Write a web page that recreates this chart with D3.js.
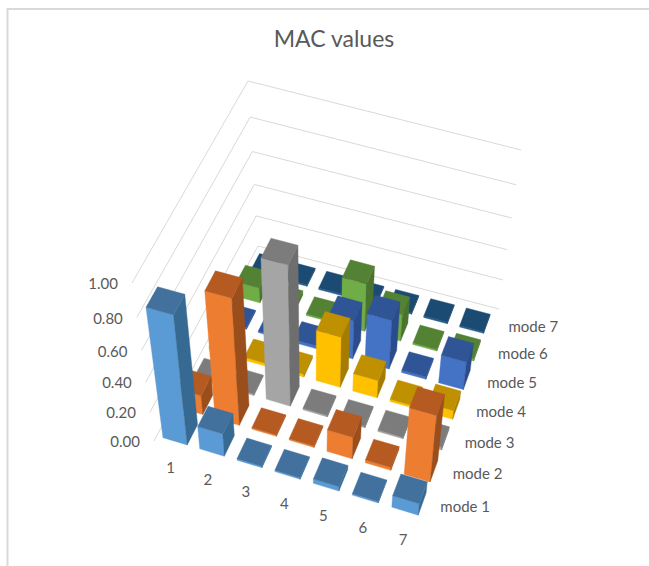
<!DOCTYPE html>
<html><head><meta charset="utf-8">
<script src="https://cdnjs.cloudflare.com/ajax/libs/d3/7.8.5/d3.min.js"></script>
<style>html,body{margin:0;padding:0;background:#fff}svg{display:block}text{font-family:Lato,"Open Sans",sans-serif;fill:#595959}</style>
</head><body><svg id="c" width="649" height="566"></svg>
<script>
const title = "MAC values";
const categories = ["1","2","3","4","5","6","7"];
const seriesNames = ["mode 1","mode 2","mode 3","mode 4","mode 5","mode 6","mode 7"];
const valueTicks = [0,0.2,0.4,0.6,0.8,1];
const mode1 = [0.84,0.155,0.01,0.01,0.03,0.01,0.08];
const mode2 = [0.13,0.82,0.01,0.01,0.15,0.02,0.45];
const mode3 = [0.01,0.01,0.90,0.01,0.01,0.01,0.02];
const mode4 = [0.02,0.02,0.02,0.34,0.12,0.015,0.06];
const mode5 = [0.01,0.01,0.02,0.26,0.33,0.015,0.19];
const mode6 = [0.10,0.03,0.01,0.32,0.18,0.01,0.02];
const mode7 = [0.01,0.01,0.01,0.01,0.01,0.01,0.01];
const seriesValues = [mode1,mode2,mode3,mode4,mode5,mode6,mode7];
const faceColors = ["#5B9BD5","#ED7D31","#A5A5A5","#FFC000","#4472C4","#70AD47","#255E91"];
const topColors  = ["#41719C","#B55A20","#7C7C7C","#BF9000","#2F5597","#548235","#1B4A72"];
const sideColors = ["#376A92","#9A4E1C","#6E6E6E","#A67C00","#2A4C8C","#4A732F","#174060"];

// perspective: camera frame of the box, floor plane and z=1 plane
const floorQuad = [[154,441],[423,523],[499,309],[258,246]];
const topQuad   = [[132,283],[438,366],[521,150],[248,81]];
function homography(q){
  const [[x0,y0],[x1,y1],[x2,y2],[x3,y3]] = q;
  const dx1=x1-x2,dx2=x3-x2,sx=x0-x1+x2-x3,dy1=y1-y2,dy2=y3-y2,sy=y0-y1+y2-y3;
  const d=dx1*dy2-dx2*dy1;
  const g=(sx*dy2-dx2*sy)/d,h=(dx1*sy-sx*dy1)/d;
  const a=x1-x0+g*x1,b=x3-x0+h*x3,e=y1-y0+g*y1,f=y3-y0+h*y3;
  return (u,v)=>{const w=g*u+h*v+1;return [(a*u+b*v+x0)/w,(e*u+f*v+y0)/w];};
}
const H0=homography(floorQuad),H1=homography(topQuad);
const persp=1.12;
const zScale=d3.scaleLinear().domain([0,1]).range([0,1]);
function project(u,v,val){
  const z=zScale(val),t=z/(z+(1-z)*persp);
  const a=H0(u,v),b=H1(u,v);
  return [a[0]+(b[0]-a[0])*t,a[1]+(b[1]-a[1])*t];
}
const uScale=d3.scaleBand().domain(categories).range([0,1]).paddingInner(0.34).paddingOuter(0.17);
const vScale=d3.scaleBand().domain(seriesNames).range([0,0.98]).paddingInner(0.34).paddingOuter(0.17);

const svg=d3.select("#c");
// frame
svg.append("rect").attr("x",7.5).attr("y",9).attr("width",700).attr("height",600)
  .attr("fill","#fff").attr("stroke","#d9d9d9").attr("stroke-width",2);
svg.append("text").attr("x",334).attr("y",47).attr("text-anchor","middle").attr("font-size",23).text(title);

const line=d3.line();
// gridlines
svg.append("g").selectAll("path").data(valueTicks).join("path")
  .attr("fill","none").attr("stroke","#d9d9d9").attr("stroke-width",1)
  .attr("d",d=>line([project(0,0,d),project(0,1,d),project(1,1,d)]));
// value labels
svg.append("g").selectAll("text").data(valueTicks).join("text")
  .attr("text-anchor","end").attr("font-size",15)
  .attr("x",d=>project(0,0,d)[0]-14).attr("y",d=>project(0,0,d)[1]+6)
  .text(d=>d3.format(".2f")(d));
// category labels
svg.append("g").selectAll("text").data(categories).join("text")
  .attr("text-anchor","middle").attr("font-size",15)
  .attr("x",d=>H0(uScale(d)+uScale.bandwidth()/2,-0.075)[0]+7)
  .attr("y",d=>H0(uScale(d)+uScale.bandwidth()/2,-0.075)[1]+10)
  .text(d=>d);
// series labels
svg.append("g").selectAll("text").data(seriesNames).join("text")
  .attr("text-anchor","start").attr("font-size",15)
  .attr("x",d=>{const m=vScale(d)+vScale.bandwidth()/2;return H0(1,m)[0]+11+5*m;})
  .attr("y",d=>H0(1,vScale(d)+vScale.bandwidth()/2)[1]+6)
  .text(d=>d);

// bars, far row first
const bars=svg.append("g");
for(let s=seriesNames.length-1;s>=0;s--){
  const v0=vScale(seriesNames[s]),v1=v0+vScale.bandwidth();
  categories.forEach((c,i)=>{
    const u0=uScale(c),u1=u0+uScale.bandwidth(),val=seriesValues[s][i];
    const poly=(pts,col)=>bars.append("path").attr("d",line(pts)+"Z").attr("fill",col).attr("stroke",col).attr("stroke-width",0.4);
    poly([project(u0,v0,0),project(u1,v0,0),project(u1,v0,val),project(u0,v0,val)],faceColors[s]);
    poly([project(u1,v0,0),project(u1,v1,0),project(u1,v1,val),project(u1,v0,val)],sideColors[s]);
    poly([project(u0,v0,val),project(u1,v0,val),project(u1,v1,val),project(u0,v1,val)],topColors[s]);
  });
}
</script></body></html>
